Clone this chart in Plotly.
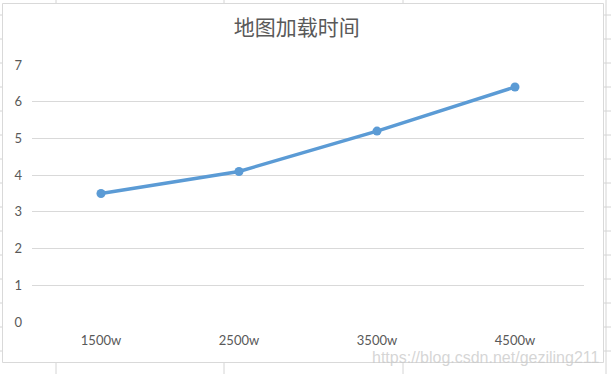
import plotly.graph_objects as go

categories = ["1500w", "2500w", "3500w", "4500w"]
load_time = [3.5, 4.1, 5.2, 6.4]
y_ticks = [0, 1, 2, 3, 4, 5, 6, 7]
title_text = "地图加载时间"
watermark = "https://blog.csdn.net/geziling211"

W, H = 611, 374
L, R, T, B = 32, 27, 65, 52
pw, ph = W - L - R, H - T - B


def px(x):
    return (x - L) / pw


def py(y):
    return 1 - (y - T) / ph


fig = go.Figure()
fig.add_trace(go.Scatter(
    x=categories, y=load_time, mode="lines+markers",
    line=dict(color="#5B9BD5", width=3.4),
    marker=dict(color="#5B9BD5", size=9),
    hoverinfo="x+y", showlegend=False,
))

shapes = []
grid_col = "#d4d4d4"
# spreadsheet cell lines behind the chart
for yy in range(15, 374, 24):
    shapes.append(dict(type="line", xref="paper", yref="paper",
                       x0=px(603), x1=px(611), y0=py(yy), y1=py(yy),
                       line=dict(color=grid_col, width=1), layer="below"))
    shapes.append(dict(type="line", xref="paper", yref="paper",
                       x0=px(0), x1=px(2), y0=py(yy), y1=py(yy),
                       line=dict(color=grid_col, width=1), layer="below"))
shapes.append(dict(type="line", xref="paper", yref="paper",
                   x0=px(606), x1=px(606), y0=py(0), y1=py(374),
                   line=dict(color=grid_col, width=1), layer="below"))
for xx in [56, 224, 403]:
    shapes.append(dict(type="line", xref="paper", yref="paper",
                       x0=px(xx), x1=px(xx), y0=py(0), y1=py(3),
                       line=dict(color=grid_col, width=1), layer="below"))
    shapes.append(dict(type="line", xref="paper", yref="paper",
                       x0=px(xx), x1=px(xx), y0=py(363), y1=py(374),
                       line=dict(color=grid_col, width=1), layer="below"))
# chart border
shapes.append(dict(type="rect", xref="paper", yref="paper",
                   x0=px(2.5), x1=px(603.5), y0=py(3.5), y1=py(362.5),
                   line=dict(color="#d9d9d9", width=1), fillcolor="rgba(0,0,0,0)",
                   layer="below"))

fig.update_layout(
    width=W, height=H,
    margin=dict(l=L, r=R, t=T, b=B),
    paper_bgcolor="white", plot_bgcolor="white",
    title=dict(text=title_text, x=px(300), xanchor="center", y=1 - 28 / H,
               yanchor="middle",
               font=dict(family="Noto Sans CJK SC", size=21, color="#595959")),
    font=dict(family="Lato, Liberation Sans, sans-serif", size=13, color="#595959"),
    xaxis=dict(type="category", range=[-0.5, 3.5], showgrid=False,
               zeroline=False, showline=False, ticks="",
               tickfont=dict(size=13, color="#595959"), ticklabelstandoff=9),
    yaxis=dict(range=[0, 7], tickvals=y_ticks, showgrid=True, gridcolor="#d9d9d9",
               gridwidth=1, zeroline=False, showline=False, ticks="",
               tickfont=dict(size=13, color="#595959"), ticklabelstandoff=9),
    shapes=shapes,
    annotations=[dict(text=watermark, xref="paper", yref="paper",
                      x=px(602), y=py(357), xanchor="right", yanchor="middle",
                      showarrow=False,
                      font=dict(family="Liberation Sans Narrow, Liberation Sans",
                                size=16, color="rgba(200,200,200,0.75)"))],
)

fig.write_html(
    "out.html",
    config={"displayModeBar": False},
    post_script="document.body.style.margin='0';document.body.style.overflow='hidden';",
)
